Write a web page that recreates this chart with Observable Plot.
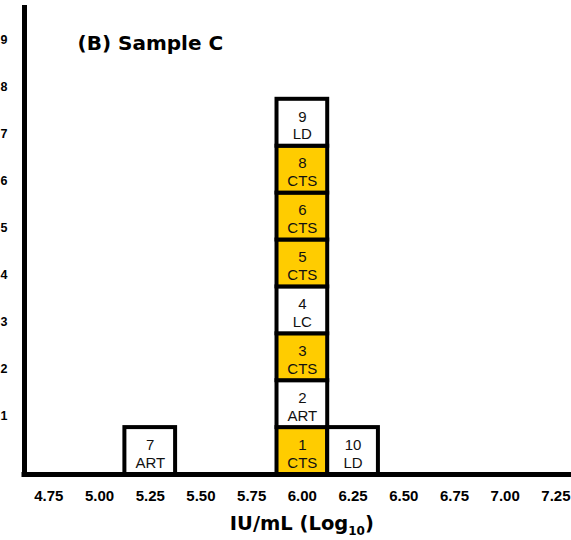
<!DOCTYPE html>
<html><head><meta charset="utf-8">
<script src="https://cdn.jsdelivr.net/npm/d3@7"></script>
<script src="https://cdn.jsdelivr.net/npm/@observablehq/plot@0.6"></script>
<style>body{margin:0;background:#fff} #chart{width:571px;height:540px}</style>
</head><body><div id="chart"></div>
<script>
// Data
const sampleIds = [1, 2, 3, 4, 5, 6, 8, 9, 7, 10];
const results   = [6.00, 6.00, 6.00, 6.00, 6.00, 6.00, 6.00, 6.00, 5.25, 6.25];
const methods   = ["CTS", "ART", "CTS", "LC", "CTS", "CTS", "CTS", "LD", "ART", "LD"];
const xTicks = [4.75, 5.00, 5.25, 5.50, 5.75, 6.00, 6.25, 6.50, 6.75, 7.00, 7.25];
const yTicks = [1, 2, 3, 4, 5, 6, 7, 8, 9];
const binWidth = 0.25;
const highlightMethod = "CTS";
const title = "(B) Sample C";

// stack boxes with same result
const counts = new Map();
const boxes = sampleIds.map((id, i) => {
  const v = results[i];
  const level = counts.get(v) || 0;
  counts.set(v, level + 1);
  return {id, v, method: methods[i], level};
});

const xMin = 4.63, xMax = 7.327;
const sans = "'Liberation Sans', Arial, sans-serif";
const plot = Plot.plot({
  width: 571, height: 540,
  marginLeft: 24, marginRight: 0, marginTop: 5, marginBottom: 66,
  x: {domain: [xMin, xMax]},
  y: {domain: [0, 10]},
  style: {fontFamily: sans, background: "white", color: "black"},
  marks: [
    Plot.axisX({ticks: xTicks, tickFormat: d3.format(".2f"), tickSize: 0, tickPadding: 16,
      label: null, fontSize: 15, fontWeight: "bold"}),
    Plot.axisY({ticks: yTicks, tickSize: 0, tickPadding: 17, dy: -12,
      label: null, fontSize: 12.5, fontWeight: "bold"}),
    Plot.rect(boxes, {
      x1: d => d.v - binWidth / 2, x2: d => d.v + binWidth / 2,
      y1: "level", y2: d => d.level + 1,
      fill: d => d.method === highlightMethod ? "#FFCC00" : "white",
      stroke: "black", strokeWidth: 4
    }),
    Plot.text(boxes, {
      x: "v", y: d => d.level + 0.5, text: d => `${d.id}\n${d.method}`,
      fontSize: 15, lineHeight: 1.18, dy: 2, fill: "#111"
    }),
    Plot.ruleX([xMin], {y1: 0, y2: 10, strokeWidth: 5}),
    Plot.ruleY([0], {strokeWidth: 5, strokeLinecap: "square"}),
    Plot.text([title], {frameAnchor: "top-left", dx: 53, dy: 30, lineAnchor: "top",
      textAnchor: "start", fontSize: 20, fontWeight: "bold", fontFamily: "'DejaVu Sans', sans-serif"})
  ]
});

// x-axis label with subscript
const svg = d3.select(plot);
const cx = plot.scale("x").apply(6.0);
const lab = svg.append("text")
  .attr("x", cx).attr("y", 530)
  .attr("text-anchor", "middle")
  .attr("font-family", "'DejaVu Sans', sans-serif")
  .attr("font-size", 19.5).attr("font-weight", "bold").attr("fill", "black");
lab.append("tspan").text("IU/mL (Log");
lab.append("tspan").attr("font-size", 12).attr("dy", 5).text("10");
lab.append("tspan").attr("dy", -5).text(")");

document.getElementById("chart").appendChild(plot);
</script>
</body></html>
